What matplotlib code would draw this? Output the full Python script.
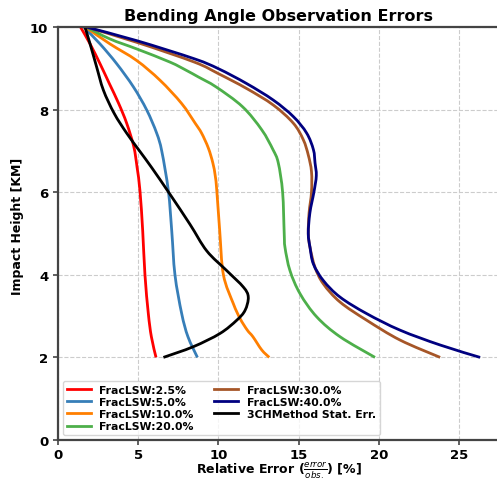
import matplotlib
import matplotlib.pyplot as plt
from matplotlib.lines import Line2D
from matplotlib.patches import PathPatch
from matplotlib.path import Path

matplotlib.use("Agg")

# heights [km] and relative errors [%]
h_25 = [10, 9.59, 9.11, 8.63, 8.15, 7.67, 7.11, 6.6, 6.03, 5.06, 4.0, 3.06, 2.5, 2.0]
e_25 = [1.4, 2.0, 2.62, 3.2, 3.78, 4.28, 4.72, 4.93, 5.11, 5.28, 5.42, 5.63, 5.82, 6.11]

h_50 = [10, 9.59, 9.11, 8.55, 7.99, 7.43, 6.99, 6.03, 5.06, 4.0, 3.06, 2.5, 2.0]
e_50 = [1.6, 2.62, 3.66, 4.7, 5.53, 6.15, 6.47, 6.88, 7.09, 7.29, 7.71, 8.1, 8.69]

h_100 = [10, 9.59, 9.19, 8.71, 8.15, 7.67, 7.43, 7.07, 6.71, 6.4, 6.03, 5.06, 4.0, 3.3, 2.94, 2.66, 2.5, 2.18, 2.0]
e_100 = [1.7, 3.24, 4.9, 6.36, 7.7, 8.55, 8.95, 9.37, 9.65, 9.8, 9.9, 10.08, 10.31, 10.93, 11.35, 11.8, 12.15, 12.7, 13.17]

h_200 = [10, 9.71, 9.47, 9.15, 8.95, 8.79, 8.55, 8.07, 7.51, 7.03, 6.71, 6.0, 5.0, 4.66, 4.1, 3.54, 2.98, 2.5, 2.0]
e_200 = [1.75, 3.24, 4.9, 6.98, 8.0, 8.75, 9.85, 11.5, 12.7, 13.4, 13.73, 14.0, 14.1, 14.15, 14.46, 15.09, 16.13, 17.58, 19.76]

h_300 = [10, 9.63, 9.15, 8.87, 8.51, 8.11, 7.67, 7.27, 6.9, 6.5, 6.0, 5.5, 5.0, 4.66, 4.18, 3.78, 3.34, 2.9, 2.42, 2.0]
e_300 = [1.75, 4.9, 8.5, 10.0, 11.76, 13.42, 14.67, 15.29, 15.6, 15.8, 15.8, 15.65, 15.6, 15.71, 16.02, 16.54, 17.58, 19.24, 21.32, 23.82]

h_400 = [10, 9.67, 9.23, 8.99, 8.63, 8.23, 7.83, 7.43, 7.03, 6.71, 6.4, 6.0, 5.5, 5.0, 4.66, 4.26, 3.86, 3.46, 3.06, 2.66, 2.3, 2.0]
e_400 = [1.75, 4.9, 8.5, 10.0, 11.76, 13.42, 14.67, 15.5, 15.92, 16.02, 16.1, 15.95, 15.7, 15.6, 15.71, 15.92, 16.54, 17.58, 19.24, 21.32, 23.82, 26.31]

h_3ch = [10, 9.59, 9.03, 8.47, 7.91, 7.43, 6.99, 6.59, 5.95, 5.22, 4.58, 4.1, 3.7, 3.46, 3.14, 2.9, 2.58, 2.26, 2.0]
e_3ch = [1.68, 2.0, 2.41, 2.83, 3.5, 4.28, 5.1, 5.85, 6.98, 8.23, 9.27, 10.52, 11.56, 11.86, 11.66, 11.14, 10.1, 8.44, 6.57]

series = [
    ("FracLSW:2.5%", e_25, h_25, "red"),
    ("FracLSW:5.0%", e_50, h_50, "#377eb8"),
    ("FracLSW:10.0%", e_100, h_100, "#ff7f00"),
    ("FracLSW:20.0%", e_200, h_200, "#4daf4a"),
    ("FracLSW:30.0%", e_300, h_300, "#a65628"),
    ("FracLSW:40.0%", e_400, h_400, "navy"),
    ("3CHMethod Stat. Err.", e_3ch, h_3ch, "black"),
]


def smooth_path(xs, ys):
    """Catmull-Rom style Bezier path through the read points (drawing only)"""
    pts = list(zip(xs, ys))
    n = len(pts)
    verts = [pts[0]]
    codes = [Path.MOVETO]
    for i in range(n - 1):
        p0 = pts[max(i - 1, 0)]
        p1 = pts[i]
        p2 = pts[i + 1]
        p3 = pts[min(i + 2, n - 1)]
        c1 = (p1[0] + (p2[0] - p0[0]) / 6, p1[1] + (p2[1] - p0[1]) / 6)
        c2 = (p2[0] - (p3[0] - p1[0]) / 6, p2[1] - (p3[1] - p1[1]) / 6)
        verts += [c1, c2, p2]
        codes += [Path.CURVE4] * 3
    return Path(verts, codes)


fig = plt.figure(figsize=(4.97, 4.81), dpi=100)
ax = fig.add_axes([58 / 497, 40 / 481, 442 / 497, 413 / 481])

handles = []
for label, x, y, color in series:
    ax.add_patch(PathPatch(smooth_path(x, y), fill=False, edgecolor=color,
                           lw=2, capstyle="butt", joinstyle="round", zorder=2))
    handles.append(Line2D([], [], color=color, lw=2, label=label))

ax.set_xlim(0, 27.55)
ax.set_ylim(0, 10)
ax.set_xticks([0, 5, 10, 15, 20, 25])
ax.set_yticks([0, 2, 4, 6, 8, 10])
ax.grid(True, ls="--", color="#cccccc", lw=0.8)

for side in ["left", "bottom", "top"]:
    ax.spines[side].set_color("#444444")
    ax.spines[side].set_linewidth(1.6)
ax.spines["right"].set_visible(False)
ax.tick_params(axis="both", labelsize=9.5, color="#444444", length=3.5, width=1.2)
ax.tick_params(axis="x", pad=2)
for t in ax.get_xticklabels() + ax.get_yticklabels():
    t.set_fontweight("bold")

ax.set_title("Bending Angle Observation Errors", fontsize=11.5, fontweight="bold", pad=5)
ax.set_ylabel("Impact Height [KM]", fontsize=9, fontweight="bold")
ax.yaxis.set_label_coords(-0.077, 0.52)
ax.set_xlabel(r"Relative Error ($\frac{error}{obs.}$) [%]", fontsize=9, fontweight="bold", labelpad=-1)

ax.legend(handles=handles, loc="lower left", ncol=2, prop={"weight": "bold", "size": 7.8},
          labelspacing=0.2, columnspacing=1.9, handlelength=2.2,
          borderpad=0.35, borderaxespad=0.45)

fig.savefig("out.png", dpi=100)
